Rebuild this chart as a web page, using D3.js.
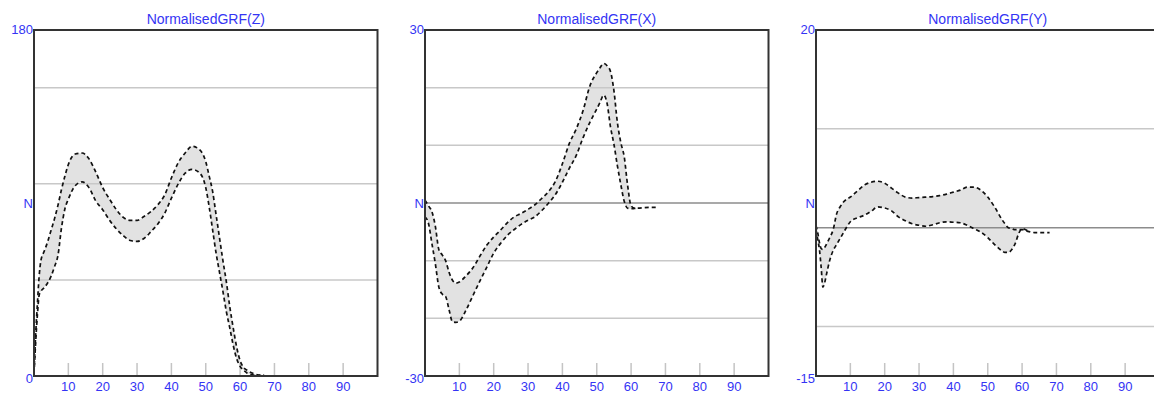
<!DOCTYPE html>
<html>
<head>
<meta charset="utf-8">
<script src="https://cdn.jsdelivr.net/npm/d3@7"></script>
<style>
  html, body { margin: 0; padding: 0; background: #fff; overflow: hidden; }
  svg { display: block; }
  text { font-family: "Liberation Sans", Arial, sans-serif; }
</style>
</head>
<body>
<svg id="chart" width="1154" height="394"></svg>
<script>
// ---- data -------------------------------------------------------------
const titles = ["NormalisedGRF(Z)", "NormalisedGRF(X)", "NormalisedGRF(Y)"];
const yDomains = [[0, 180], [-30, 30], [-15, 20]];
const yTopLabels = ["180", "30", "20"];
const yBottomLabels = ["0", "-30", "-15"];
const gridValues = [[50, 100, 150], [-20, -10, 0, 10, 20], [-10, 0, 10]];
const xTickValues = [10, 20, 30, 40, 50, 60, 70, 80, 90];
const unitLabel = "N";

// Z component (vertical force), upper / lower envelope
const xZ = [0, 0.5, 1, 1.5, 2, 3, 4, 5, 6, 7, 8, 9, 10, 12, 14, 16, 18, 20, 22, 24, 26, 28, 30,
  32, 34, 36, 38, 40, 42, 44, 46, 48, 50, 51, 52, 53, 54, 55, 56, 57, 58, 59, 60, 61, 62, 64, 66, 67];
const upZ = [2, 22, 38, 52, 60, 65, 70, 76, 82, 89, 97, 104, 110, 115.5, 116, 113, 106, 98, 92, 86.5,
  82.5, 81, 81, 83, 85.5, 89, 94, 103, 111, 116, 119.5, 118, 111.5, 104, 96, 84, 72, 60, 49, 36, 25,
  15, 8, 4.5, 3, 1.2, 0.5, 0.5];
const loZ = [1, 18, 32, 42, 44, 46, 48.5, 52, 57, 63, 77, 87, 92, 99, 101, 98, 91, 86.5, 81, 76.5,
  73, 70.5, 70, 71.5, 75, 79, 84.5, 92.5, 100, 105.5, 107.5, 106, 98, 88, 76, 64, 54, 44, 33.5, 25,
  16, 9, 5, 3, 1.6, 0.5, 0.2, 0.3];

// X component (anterior-posterior force)
const xX = [0, 1, 2, 3, 4, 5, 6, 7, 8, 9, 10, 12, 14, 16, 18, 20, 22, 24, 26, 28, 30, 32, 34, 36,
  38, 40, 42, 44, 46, 48, 50, 51, 52, 53, 54, 55, 56, 57, 58, 59, 60, 61, 62, 64, 66, 67.5];
const upX = [0.5, -0.5, -1.5, -4, -8, -9, -10, -12, -13.4, -13.9, -13.7, -12.6, -11.2, -9.2, -7.3,
  -5.9, -4.7, -3.4, -2.4, -1.8, -1.1, -0.3, 0.8, 2, 3.8, 6.8, 10.3, 12.8, 16, 20.3, 22.6, 23.5, 24.2,
  23.8, 22.8, 19.5, 14, 10.5, 8, 3, -0.5, -0.9, -0.9, -0.8, -0.75, -0.75];
const loX = [-2.4, -3.5, -7, -10.5, -14.5, -15.8, -16.2, -18.5, -20.6, -20.7, -20.5, -18.5, -16,
  -13.5, -11.1, -8.7, -7, -5.6, -4.6, -3.7, -3, -2.4, -1.3, 0, 1.5, 3.6, 6, 8.2, 11.3, 14, 16.3,
  17.5, 18.7, 17.3, 13.2, 10.2, 6.5, 3.2, 0.3, -0.9, -1, -0.95, -0.9, -0.8, -0.75, -0.75];

// Y component (medio-lateral force)
const xY = [0, 0.5, 1, 1.5, 2, 2.5, 3, 4, 5, 6, 7, 8, 9, 10, 12, 14, 16, 18, 20, 22, 24, 26, 28, 30,
  32, 34, 36, 38, 40, 42, 44, 46, 48, 50, 52, 54, 55, 56, 57, 58, 59, 60, 62, 64, 66, 68];
const upY = [0.2, -0.5, -1.5, -2.1, -2.2, -2.0, -1.7, -1.0, -0.2, 1.4, 2.1, 2.6, 2.9, 3.1, 3.7, 4.3,
  4.6, 4.7, 4.5, 4.0, 3.5, 3.1, 3.0, 3.05, 3.1, 3.15, 3.25, 3.4, 3.6, 3.8, 4.1, 4.1, 3.8, 3.1, 2.1,
  0.9, 0.4, 0, -0.1, -0.2, -0.2, -0.2, -0.4, -0.5, -0.5, -0.5];
const loY = [-0.2, -1.2, -2.2, -4, -6, -5.6, -4.8, -3.3, -2.3, -1.7, -1.1, -0.5, 0.1, 0.6, 1.0, 1.25,
  1.65, 2.1, 2.0, 1.7, 1.1, 0.7, 0.4, 0.25, 0.15, 0.3, 0.5, 0.6, 0.55, 0.5, 0.25, -0.1, -0.45, -1.0,
  -1.7, -2.3, -2.5, -2.5, -2.2, -1.6, -0.6, -0.1, -0.4, -0.5, -0.5, -0.5];

const xSeries = [xZ, xX, xY];
const upSeries = [upZ, upX, upY];
const loSeries = [loZ, loX, loY];

// ---- layout -----------------------------------------------------------
const blue = "#3434f4";
const plotW = 343.5, plotTop = 30, plotBottom = 376, panelStep = 391, firstLeft = 34;

const svg = d3.select("#chart");

titles.forEach((title, i) => {
  const left = firstLeft + i * panelStep;
  const x = d3.scaleLinear().domain([0, 100]).range([left, left + plotW]);
  const y = d3.scaleLinear().domain(yDomains[i]).range([plotBottom, plotTop]);
  const g = svg.append("g");

  const rows = xSeries[i].map((xv, k) => ({ x: xv, up: upSeries[i][k], lo: loSeries[i][k] }));
  const curve = d3.curveMonotoneX;

  // shaded band between the two envelope curves
  g.append("path")
    .datum(rows)
    .attr("fill", "#e2e2e2")
    .attr("d", d3.area().curve(curve).x(d => x(d.x)).y0(d => y(d.lo)).y1(d => y(d.up)));

  // horizontal grid lines
  g.selectAll("line.grid")
    .data(gridValues[i])
    .join("line")
    .attr("class", "grid")
    .attr("x1", x(0)).attr("x2", x(100))
    .attr("y1", d => y(d)).attr("y2", d => y(d))
    .attr("stroke", d => d === 0 ? "#8c8c8c" : "#c8c8c8")
    .attr("stroke-width", 1.5);

  // short tick marks rising from the bottom axis
  g.selectAll("line.xtick")
    .data(xTickValues)
    .join("line")
    .attr("class", "xtick")
    .attr("x1", d => x(d)).attr("x2", d => x(d))
    .attr("y1", plotBottom).attr("y2", plotBottom - 13)
    .attr("stroke", "#c4c4c4")
    .attr("stroke-width", 1.5);

  // dashed envelope curves; once the two curves merge the tail is drawn only once
  const lastSplit = d3.max(rows.map((d, k) => (d.lo !== d.up ? k : -1)));
  ["up", "lo"].forEach(key => {
    g.append("path")
      .datum(key === "up" ? rows : rows.slice(0, lastSplit + 2))
      .attr("fill", "none")
      .attr("stroke", "#111")
      .attr("stroke-width", 1.7)
      .attr("stroke-dasharray", "4,3")
      .attr("d", d3.line().curve(curve).x(d => x(d.x)).y(d => y(d[key])));
  });

  // frame
  g.append("rect")
    .attr("x", x(0)).attr("y", plotTop)
    .attr("width", x(100) - x(0)).attr("height", plotBottom - plotTop)
    .attr("fill", "none")
    .attr("stroke", "#333")
    .attr("stroke-width", 2);

  // x tick labels
  g.selectAll("text.xlab")
    .data(xTickValues)
    .join("text")
    .attr("class", "xlab")
    .attr("x", d => x(d)).attr("y", 391)
    .attr("text-anchor", "middle")
    .attr("font-size", 13)
    .attr("fill", blue)
    .text(d => d);

  // y extreme labels and unit label
  g.append("text")
    .attr("x", x(0) - 1).attr("y", plotTop + 4)
    .attr("text-anchor", "end").attr("font-size", 13).attr("fill", blue)
    .text(yTopLabels[i]);
  g.append("text")
    .attr("x", x(0) - 1).attr("y", plotBottom + 7)
    .attr("text-anchor", "end").attr("font-size", 13).attr("fill", blue)
    .text(yBottomLabels[i]);
  g.append("text")
    .attr("x", x(0) - 1).attr("y", (plotTop + plotBottom) / 2 + 5)
    .attr("text-anchor", "end").attr("font-size", 13).attr("fill", blue)
    .text(unitLabel);

  // title
  g.append("text")
    .attr("x", (x(0) + x(100)) / 2).attr("y", 24)
    .attr("text-anchor", "middle")
    .attr("font-size", 14)
    .attr("fill", blue)
    .text(title);
});
</script>
</body>
</html>
